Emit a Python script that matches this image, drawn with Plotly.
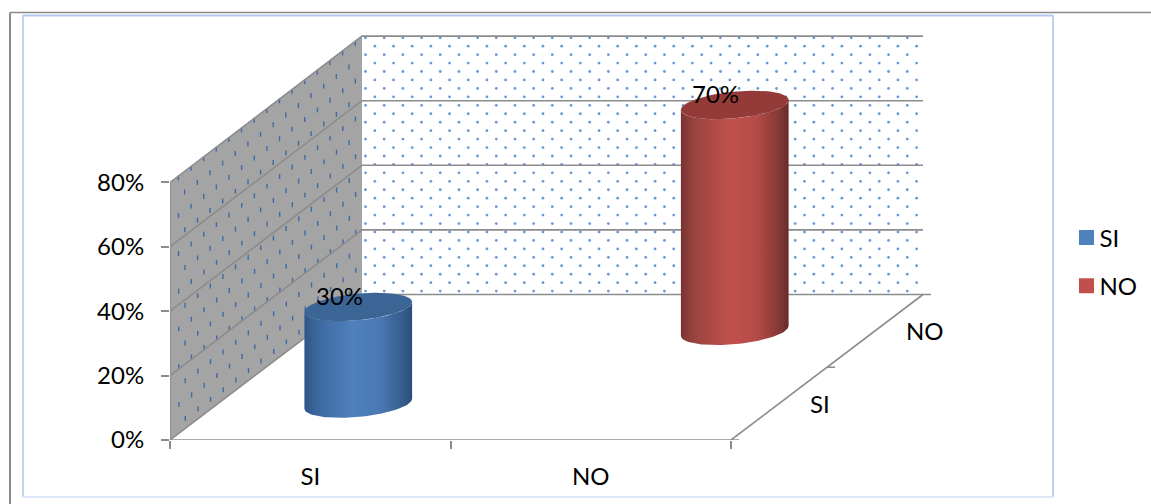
import numpy as np
import plotly.graph_objects as go

# ---- data ----
categories = ["SI", "NO"]
series_names = ["SI", "NO"]
series_values = [0.30, 0.70]
value_ticks = [0, 0.2, 0.4, 0.6, 0.8]
value_tick_labels = ["0%", "20%", "40%", "60%", "80%"]
body_colors = [
    [[0, "#2f5688"], [0.12, "#3c689f"], [0.45, "#4f81bd"], [0.7, "#4a79b2"], [0.92, "#355b8b"], [1, "#2d4d78"]],
    [[0, "#773432"], [0.12, "#994340"], [0.45, "#c0504d"], [0.7, "#b54b48"], [0.92, "#833835"], [1, "#662b29"]],
]
top_colors = ["#3b6595", "#943a38"]
legend_colors = ["#4f81bd", "#c0504d"]

# ---- layout geometry ----
W, H = 1151, 504
PX_CAT, PX_VAL = 280.5, 322.0       # px per category, px per unit value
L, B, T, R = 170, 64, 20, 111
DEPTH_X = 96 / PX_CAT               # oblique shear of one depth step, in axis units
DEPTH_Y = 72.75 / PX_VAL
DEPTH_SCALE = 0.0015                # slight growth of the value scale with depth
RAD_CAT, RAD_DEPTH = 0.18, 0.195    # cylinder radius along category / depth
GRID = "#8c8c8c"
FONT = "Lato"


def proj(c, d, v):
    d = np.asarray(d)
    return c + d * DEPTH_X, v * (1 + DEPTH_SCALE * d) + d * DEPTH_Y


def poly(points):
    xs, ys = zip(*[proj(*p) for p in points])
    return list(xs), list(ys)


fig = go.Figure()


def add_poly(points, **kw):
    x, y = poly(points)
    fig.add_trace(go.Scatter(x=x, y=y, showlegend=False, hoverinfo="skip", **kw))


# Side wall
add_poly([(0, 0, 0), (0, 2, 0), (0, 2, 0.8), (0, 0, 0.8), (0, 0, 0)],
         mode="lines", fill="toself", fillcolor="#a4a4a4", line=dict(width=0))

# Side wall dots (sheared lattice)
dx, dy = [], []
for i in range(-30, 40):
    for j in range(-30, 40):
        d = 0.087 + i * 0.1316 + j * 0.0663
        v = 0.794 - j * 0.0587
        if 0.03 < d < 1.98 and 0.008 < v < 0.797:
            px, py = proj(0, d, v)
            dx.append(float(px))
            dy.append(float(py))
fig.add_trace(go.Scatter(x=dx, y=dy, mode="markers", showlegend=False, hoverinfo="skip",
                         marker=dict(symbol="line-ns", size=3.5,
                                     line=dict(width=1.4, color="#3f6aa3"))))

# Back wall
add_poly([(0, 2, 0), (2, 2, 0), (2, 2, 0.8), (0, 2, 0.8), (0, 2, 0)],
         mode="lines", fill="toself", fillcolor="#ffffff", line=dict(width=0))
bx_dots, by_dots = [], []
for row in range(0, 32):
    v = 0.795 - row * 0.02615
    for col in range(-2, 34):
        c = 0.0125 + col * 0.0666 + (0.0333 if row % 2 else 0)
        if 0.005 < c < 1.995 and v > 0.006:
            px, py = proj(c, 2, v)
            bx_dots.append(float(px))
            by_dots.append(float(py))
fig.add_trace(go.Scatter(x=bx_dots, y=by_dots, mode="markers", showlegend=False, hoverinfo="skip",
                         marker=dict(symbol="circle", size=2.8, color="#6a98d4", line=dict(width=0))))

# Gridlines on both walls
for v in value_ticks:
    if v == 0:
        continue
    add_poly([(0, 0, v), (0, 2, v), (2, 2, v)], mode="lines", line=dict(color=GRID, width=1.6))

# Floor edges and wall edge
tick = 8 / PX_CAT
add_poly([(0, 0, 0), (0, 2, 0), (2 + tick, 2, 0)], mode="lines", line=dict(color=GRID, width=1.6))
add_poly([(0, 0, 0), (2 + tick, 0, 0)], mode="lines", line=dict(color=GRID, width=1.6))
add_poly([(2, 0, 0), (2, 2, 0)], mode="lines", line=dict(color=GRID, width=1.6))
add_poly([(2, 1, 0), (2 + tick, 1, 0)], mode="lines", line=dict(color=GRID, width=1.6))
add_poly([(0, 0, 0), (0, 0, 0.8)], mode="lines", line=dict(color=GRID, width=1.6))

# Cylinders
t0 = np.arctan2(RAD_DEPTH * 96, RAD_CAT * PX_CAT)
for k, (name, val) in enumerate(zip(series_names, series_values)):
    c0, d0 = k + 0.5, k + 0.5

    def ring(ts, v):
        return proj(c0 + RAD_CAT * np.cos(ts), d0 + RAD_DEPTH * np.sin(ts), v)

    ts = np.linspace(t0, t0 - np.pi, 60)
    bx, by = ring(ts, 0)
    tx, ty = ring(ts[::-1], val)
    fig.add_trace(go.Scatter(
        x=np.r_[bx, tx], y=np.r_[by, ty], mode="lines", fill="toself",
        line=dict(width=0), showlegend=False, hoverinfo="skip",
        fillgradient=dict(type="horizontal", colorscale=body_colors[k])))
    ex, ey = ring(np.linspace(0, 2 * np.pi, 120), val)
    fig.add_trace(go.Scatter(x=ex, y=ey, mode="lines", fill="toself", fillcolor=top_colors[k],
                             line=dict(width=0), showlegend=False, hoverinfo="skip"))
    # legend entry
    fig.add_trace(go.Scatter(x=[None], y=[None], mode="markers", name=name, legendgroup=name,
                             marker=dict(symbol="square", size=15, color=legend_colors[k])))

# Data labels
annotations = []
for k, val in enumerate(series_values):
    x, y = proj(k + 0.5, k + 0.5, val)
    annotations.append(dict(x=float(x), y=float(y), text=f"{val:.0%}", showarrow=False,
                            xshift=-19, yshift=11, font=dict(family=FONT, size=24, color="#000")))
# Depth axis labels
for k, (cat, shift) in enumerate(zip(categories, [41, 50])):
    x, y = proj(2, k + 0.5, 0)
    annotations.append(dict(x=float(x), y=float(y), text=cat, showarrow=False, xshift=shift,
                            font=dict(family=FONT, size=24, color="#000")))


def px_x(p):
    return (p - L) / (W - L - R)


def px_y(p):
    return (H - B - p) / (H - B - T)


def frame_line(x0, y0, x1, y1, color, width):
    return dict(type="line", xref="paper", yref="paper", layer="below",
                x0=px_x(x0), x1=px_x(x1), y0=px_y(y0), y1=px_y(y1),
                line=dict(color=color, width=width))


frame = [
    frame_line(23, 15.5, 1053, 15.5, "#b4c9ef", 2),
    frame_line(1053, 15, 1053, 497, "#bccff0", 2),
    frame_line(23, 15, 23, 497, "#c3d4f2", 2),
    frame_line(23, 497, 1053, 497, "#dfe8f7", 2),
    frame_line(10, 12.5, W, 12.5, "#8a8a8a", 1.5),
    frame_line(10, 12.5, 10, H, "#8a8a8a", 2),
]

fig.update_layout(
    width=W, height=H, autosize=False,
    margin=dict(l=L, r=R, t=T, b=B, pad=0, autoexpand=False),
    paper_bgcolor="#ffffff", plot_bgcolor="rgba(0,0,0,0)",
    font=dict(family=FONT, size=24, color="#000"),
    shapes=frame, annotations=annotations,
    showlegend=True,
    legend=dict(x=px_x(1066.5), y=px_y(215.5), xanchor="left", yanchor="top",
                bgcolor="rgba(0,0,0,0)", tracegroupgap=14, itemwidth=30,
                font=dict(family=FONT, size=24)),
    xaxis=dict(range=[0, (W - L - R) / PX_CAT], showgrid=False, zeroline=False, showline=False,
               tickvals=[0.5, 1.5], ticktext=categories, ticks="", ticklabelstandoff=20,
               tickfont=dict(family=FONT, size=24),
               minor=dict(tickvals=[0, 1, 2], ticks="outside", ticklen=8, tickwidth=1.6,
                          tickcolor=GRID, showgrid=False)),
    yaxis=dict(range=[0, (H - B - T) / PX_VAL], showgrid=False, zeroline=False, showline=False,
               tickvals=value_ticks, ticktext=value_tick_labels, ticks="outside", ticklen=8,
               ticklabelstandoff=12,
               tickwidth=1.6, tickcolor=GRID, tickfont=dict(family=FONT, size=24)),
)
fig.write_html("out.html", config=dict(displayModeBar=False),
               post_script="document.body.style.margin='0';document.documentElement.style.overflow='hidden';"
                           "document.querySelectorAll('.legendtext').forEach(t=>t.setAttribute('x','33'));")
